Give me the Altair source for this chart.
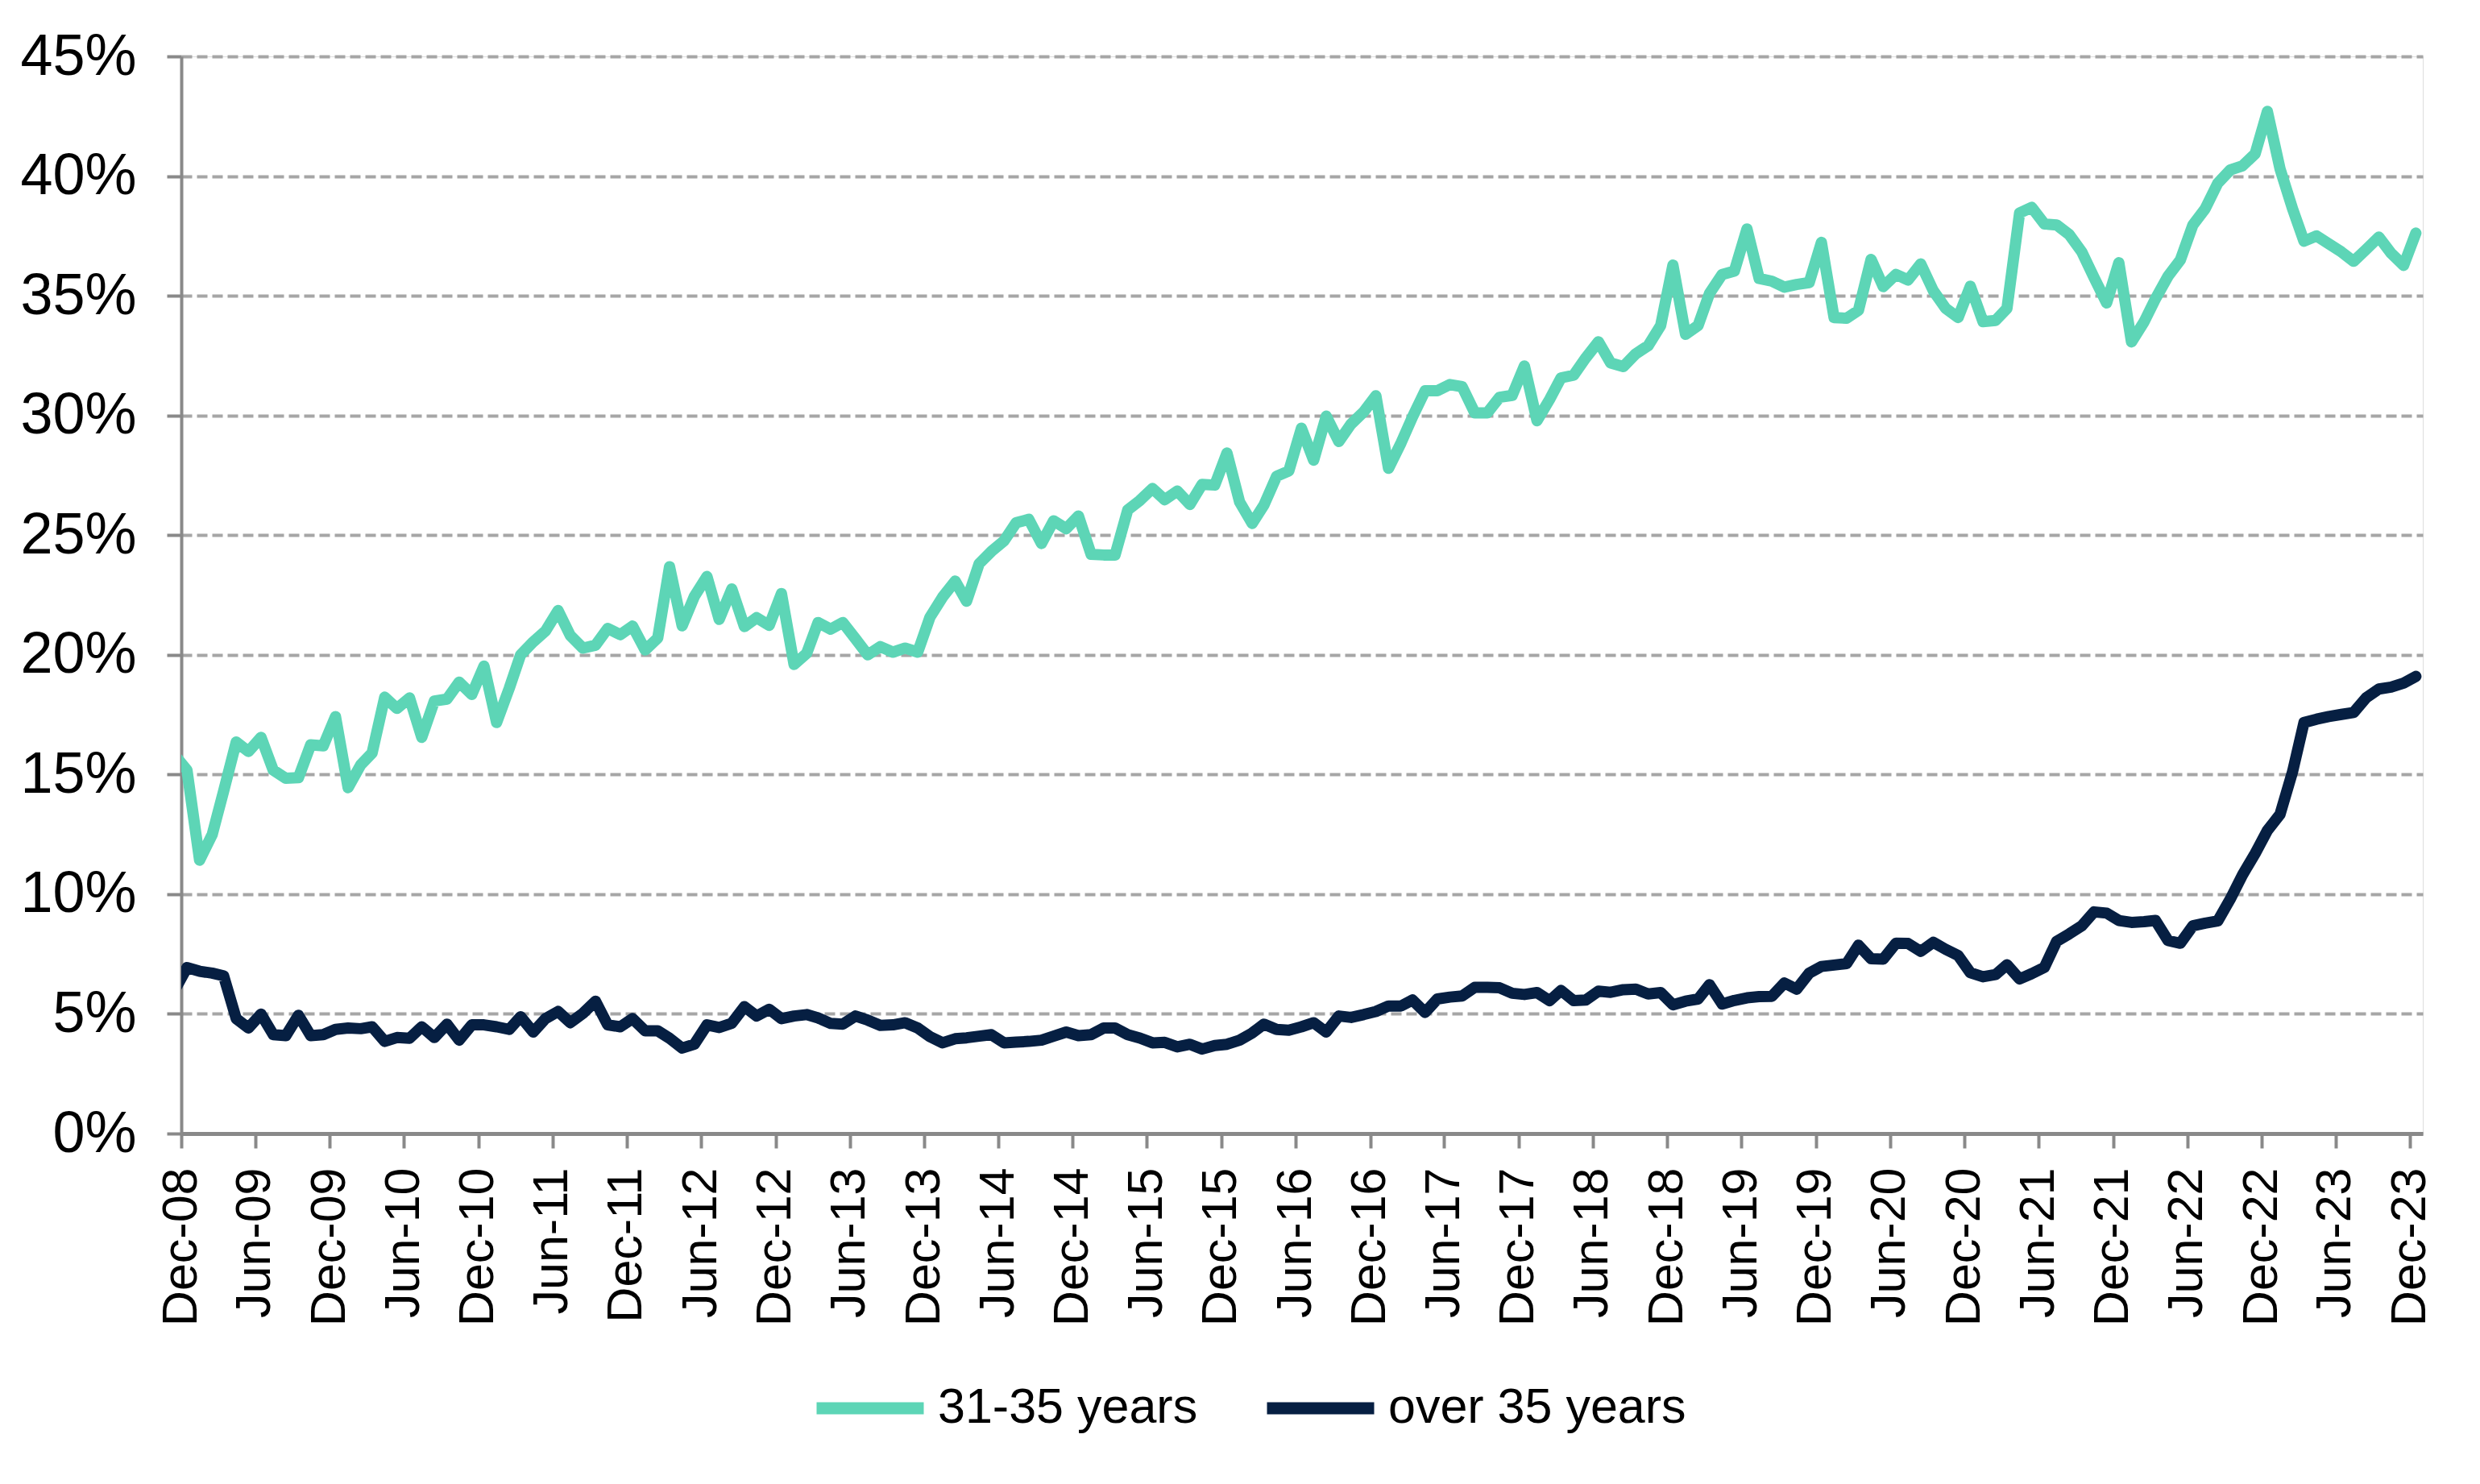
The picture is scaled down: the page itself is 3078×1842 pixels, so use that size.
import altair as alt
import pandas as pd

# monthly readings, Nov-08 .. Dec-23 (Nov-08 sits just left of the axis and is clipped)
MONTHS = pd.date_range("2008-11-01", "2023-12-01", freq="MS")

AGE_31_35 = [
    15.8, 15.18,
    11.42, 12.49, 14.3, 16.36, 15.96, 16.55, 15.18, 14.84, 14.87, 16.24, 16.2, 17.42,
    14.45, 15.4, 15.9, 18.23, 17.76, 18.2, 16.55, 18.07, 18.15, 18.86, 18.34, 19.53,
    17.17, 18.6, 20.0, 20.54, 20.99, 21.85, 20.81, 20.28, 20.4, 21.1, 20.84, 21.2,
    20.2, 20.7, 23.68, 21.21, 22.44, 23.27, 21.48, 22.75, 21.18, 21.55, 21.23, 22.56,
    19.6, 20.06, 21.35, 21.07, 21.35, 20.67, 20.0, 20.34, 20.11, 20.28, 20.11, 21.57,
    22.41, 23.08, 22.24, 23.81, 24.32, 24.76, 25.52, 25.66, 24.65, 25.6, 25.27, 25.8,
    24.2, 24.17, 24.17, 26.05, 26.45, 26.95, 26.48, 26.84, 26.28, 27.12, 27.09, 28.43,
    26.39, 25.49, 26.26, 27.46, 27.68, 29.47, 28.13, 29.97, 28.91, 29.64, 30.15, 30.82,
    27.79, 28.86, 29.94, 31.03, 31.03, 31.29, 31.2, 30.11, 30.11, 30.76, 30.84, 32.07,
    29.78, 30.67, 31.57, 31.68, 32.41, 33.08, 32.19, 32.04, 32.58, 32.91, 33.76, 36.28,
    33.39, 33.76, 35.1, 35.89, 36.03, 37.79, 35.72, 35.61, 35.36, 35.47, 35.55, 37.23,
    34.09, 34.06, 34.39, 36.52, 35.38, 35.89, 35.66, 36.33, 35.21, 34.48, 34.09, 35.4,
    33.92, 33.97, 34.47, 38.46, 38.69, 38.0, 37.96, 37.56, 36.83, 35.76, 34.7, 36.38,
    33.07, 33.91, 34.87, 35.82, 36.49, 37.96, 38.63, 39.7, 40.26, 40.43, 40.93, 42.7,
    40.31, 38.63, 37.28, 37.5, 37.17, 36.83, 36.44, 36.94, 37.45, 36.78, 36.27, 37.62,
]

AGE_OVER_35 = [
    6.0, 6.93,
    6.78, 6.70, 6.59, 4.80, 4.41, 4.99, 4.13, 4.09, 4.94, 4.09, 4.13, 4.35,
    4.41, 4.38, 4.46, 3.85, 4.01, 3.98, 4.46, 4.01, 4.57, 3.90, 4.54, 4.54,
    4.46, 4.35, 4.88, 4.24, 4.80, 5.10, 4.63, 5.02, 5.53, 4.54, 4.46, 4.80,
    4.29, 4.29, 3.98, 3.57, 3.73, 4.54, 4.43, 4.61, 5.30, 4.91, 5.19, 4.80,
    4.91, 4.97, 4.83, 4.60, 4.57, 4.91, 4.74, 4.52, 4.54, 4.63, 4.41, 4.05,
    3.79, 3.96, 4.00, 4.07, 4.13, 3.79, 3.82, 3.85, 3.90, 4.07, 4.24, 4.09,
    4.13, 4.41, 4.41, 4.13, 3.99, 3.79, 3.81, 3.62, 3.73, 3.53, 3.68, 3.73,
    3.90, 4.20, 4.57, 4.35, 4.32, 4.46, 4.63, 4.24, 4.91, 4.85, 4.97, 5.10,
    5.33, 5.33, 5.58, 5.06, 5.62, 5.70, 5.75, 6.11, 6.11, 6.09, 5.86, 5.81,
    5.89, 5.55, 5.98, 5.55, 5.58, 5.95, 5.90, 6.01, 6.03, 5.83, 5.89, 5.38,
    5.53, 5.62, 6.22, 5.41, 5.56, 5.67, 5.72, 5.73, 6.29, 6.03, 6.70, 6.98,
    7.04, 7.10, 7.87, 7.30, 7.29, 7.95, 7.94, 7.61, 7.99, 7.70, 7.44, 6.72,
    6.55, 6.64, 7.05, 6.46, 6.68, 6.94, 8.03, 8.34, 8.68, 9.26, 9.21, 8.90,
    8.82, 8.85, 8.90, 8.06, 7.95, 8.68, 8.79, 8.88, 9.80, 10.81, 11.70, 12.66,
    13.33, 15.12, 17.17, 17.31, 17.42, 17.51, 17.59, 18.21, 18.57, 18.65, 18.82, 19.10,
]

SERIES = ["31-35 years", "over 35 years"]
COLORS = ["#5DD5B6", "#061F42"]
TICK_DATES = pd.date_range("2008-12-01", "2023-12-01", freq="6MS")
Y_TICKS = [0, 5, 10, 15, 20, 25, 30, 35, 40, 45]

FONT = "Liberation Sans"
AXIS_GREY = "#898989"

rows = []
for name, vals in zip(SERIES, [AGE_31_35, AGE_OVER_35]):
    for m, v in zip(MONTHS, vals):
        # readings sit mid-month between the month ticks
        rows.append({"date": (m + pd.Timedelta(days=14)).strftime("%Y-%m-%d"),
                     "series": name, "share": v})
df = pd.DataFrame(rows)

x_ticks = [alt.DateTime(year=d.year, month=d.month, date=1, utc=True) for d in TICK_DATES]

chart = alt.Chart(df).mark_line(
    strokeWidth=14, clip=True, strokeCap="round", strokeJoin="round"
).encode(
    x=alt.X(
        "date:T",
        scale=alt.Scale(
            type="utc",
            domain=[alt.DateTime(year=2008, month=12, date=1, utc=True),
                    alt.DateTime(year=2024, month=1, date=1, utc=True)],
        ),
        axis=alt.Axis(
            title=None, values=x_ticks, grid=False,
            labelExpr="utcFormat(datum.value, '%b-%y')",
            labelAngle=-90, labelFontSize=61, labelFont=FONT, labelColor="black",
            labelPadding=24, labelLimit=400, labelOverlap=False,
            domainColor=AXIS_GREY, domainWidth=5,
            tickColor=AXIS_GREY, tickWidth=4, tickSize=18,
        ),
    ),
    y=alt.Y(
        "share:Q",
        scale=alt.Scale(domain=[0, 45], nice=False),
        axis=alt.Axis(
            title=None, values=Y_TICKS, labelExpr="datum.value + '%'",
            labelFontSize=72, labelFont=FONT, labelColor="black",
            labelPadding=38, labelLimit=400,
            domainColor=AXIS_GREY, domainWidth=4,
            tickColor=AXIS_GREY, tickWidth=4, tickSize=18,
            grid=True, gridColor="#A6A6A6", gridWidth=4, gridDash=[13, 6],
        ),
    ),
    color=alt.Color(
        "series:N",
        scale=alt.Scale(domain=SERIES, range=COLORS),
        legend=alt.Legend(
            title=None, orient="none", legendX=781, legendY=1604,
            direction="horizontal", symbolType="stroke", symbolSize=17689,
            symbolStrokeWidth=15, labelFontSize=61, labelFont=FONT,
            labelColor="black", labelLimit=600, labelOffset=10,
            columnPadding=55, padding=0,
        ),
    ),
).properties(
    width=2782,
    height=1337,
    padding={"left": 16, "top": 26, "right": 5, "bottom": 5},
).configure_view(
    stroke=None
).configure(
    font=FONT
)

chart.save("out.html", embed_options={"renderer": "svg", "actions": False})
